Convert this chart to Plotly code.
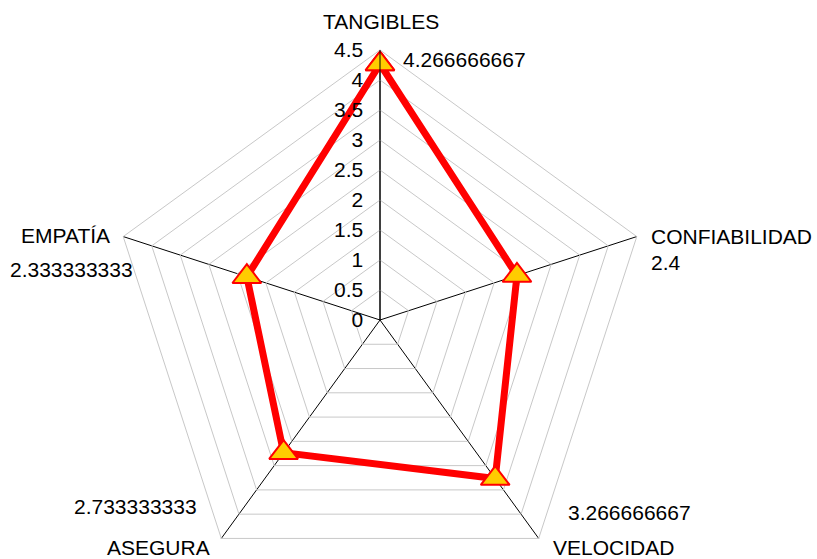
import plotly.graph_objects as go

# Dimensiones evaluadas y puntaje promedio de cada una
categories = ["TANGIBLES", "CONFIABILIDAD", "VELOCIDAD", "ASEGURA", "EMPATÍA"]
scores = [4.266666667, 2.4, 3.266666667, 2.733333333, 2.333333333]
radial_ticks = [0, 0.5, 1, 1.5, 2, 2.5, 3, 3.5, 4, 4.5]

FONT = "Arial, Liberation Sans, sans-serif"
FS = 21
W, H = 817, 590          # the figure is taller than the viewport; the bottom is cropped
CX, CY, R = 380, 320, 270  # centre and outer radius of the radar, in pixels

fig = go.Figure()
fig.add_trace(go.Scatterpolar(
    r=scores + scores[:1],
    theta=categories + categories[:1],
    mode="lines+markers",
    line=dict(color="#FF0000", width=7),
    marker=dict(symbol="triangle-up", size=25, color="#FFCC00",
                line=dict(color="#FF0000", width=2)),
    cliponaxis=False,
    showlegend=False,
    hoverinfo="skip",
))


def add_text(text, px, py, anchor):
    fig.add_annotation(
        x=px / W, y=(H - py) / H, xref="paper", yref="paper",
        text=text, showarrow=False, xanchor=anchor, yanchor="middle",
        font=dict(family=FONT, size=FS, color="black"),
    )


# category names around the outer polygon
cat_pos = [
    (381, 22, "center"),
    (649, 236, "left"),
    (551, 547, "left"),
    (212, 547, "right"),
    (112, 235, "right"),
]
for name, (px, py, anchor) in zip(categories, cat_pos):
    add_text(name, px, py, anchor)

# value labels next to each category name
val_pos = [
    (401, 60, "left"),
    (649, 262, "left"),
    (566, 512, "left"),
    (199, 506, "right"),
    (135, 269, "right"),
]
for v, (px, py, anchor) in zip(scores, val_pos):
    add_text(f"{v:.10g}", px, py, anchor)

fig.update_layout(
    width=W, height=H,
    margin=dict(l=0, r=0, t=0, b=0),
    paper_bgcolor="white",
    font=dict(family=FONT, size=FS, color="black"),
    polar=dict(
        domain=dict(x=[(CX - R) / W, (CX + R) / W], y=[(H - CY - R) / H, (H - CY + R) / H]),
        gridshape="linear",
        bgcolor="white",
        angularaxis=dict(
            direction="clockwise", rotation=90, type="category",
            categoryorder="array", categoryarray=categories,
            showline=True, linecolor="#C8C8C8", linewidth=1,
            gridcolor="black", gridwidth=1, ticks="", showticklabels=False,
        ),
        radialaxis=dict(
            range=[0, 4.5], tickvals=radial_ticks, angle=90,
            side="counterclockwise", tickangle=90,
            showline=True, linecolor="black", linewidth=1,
            gridcolor="#C8C8C8", gridwidth=1,
            ticks="outside", ticklen=9, tickcolor="rgba(0,0,0,0)",
            tickfont=dict(family=FONT, size=FS, color="black"),
        ),
    ),
)

fig.write_html(
    "out.html",
    post_script="document.documentElement.style.overflow='hidden';document.body.style.overflow='hidden';",
)
